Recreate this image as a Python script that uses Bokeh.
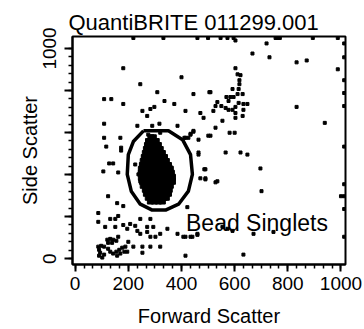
from bokeh.plotting import figure
from bokeh.models import Range1d, FixedTicker, Label
from bokeh.embed import file_html
from bokeh.resources import INLINE

# ---- data (Forward Scatter, Side Scatter) ----
scatter_fsc = [181, 245, 400, 309, 445, 505, 109, 136, 181, 336, 373, 253, 283, 298, 271, 415, 471, 483,
               109, 234, 290, 317, 385, 445, 434, 109, 170, 117, 173, 411, 426, 501, 464,
               547, 573, 596, 754, 762, 770, 894, 988, 219, 332, 460, 500,
               603, 720, 667, 731, 833, 871, 988,
               1012, 1012, 1012, 1012, 1012, 1012,
               603, 611, 622, 618, 618, 592, 615, 509, 611, 630, 569, 584, 596, 577, 535,
               550, 566, 577, 592, 603, 615, 528, 520, 633, 648, 633, 603, 603, 630, 833,
               554, 528, 509, 581, 600, 939,
               173, 128, 143, 106, 162, 124, 158, 181, 87, 87, 113, 132, 151, 162, 151, 181, 196,
               207, 226, 245, 283, 234, 245, 271, 271, 294, 283, 302, 320, 347, 385, 407, 434, 460,
               162, 200, 219, 253, 283, 320, 189, 196, 415, 415, 434, 445, 464, 490, 490,
               464, 566, 622, 648, 697, 486, 471, 490, 528, 535, 701, 422, 554, 573, 592, 671, 746,
               441, 460, 415, 633, 1012, 1012, 1000, 1012, 1012, 253,
               121, 132, 143, 155, 124, 139, 87, 98, 109, 90, 94, 90, 102, 109,
               124, 132, 143, 155, 166, 177, 170, 158, 185,
               226, 238, 245, 366, 358, 257, 294, 283, 340, 275, 320]
scatter_ssc = [906, 830, 863, 792, 783, 792, 759, 759, 736, 750, 736, 703, 712, 722, 679, 703, 693, 670,
               642, 632, 632, 642, 632, 608, 594, 575, 575, 533, 528, 575, 575, 585, 566,
               1050, 1050, 1050, 1050, 1050, 1050, 1050, 1050, 1050, 1050, 1050, 1050,
               1038, 1024, 976, 958, 934, 943, 901,
               1024, 958, 849, 788, 726, 533,
               906, 877, 873, 849, 830, 807, 807, 792, 783, 783, 769, 769, 769, 750, 745,
               726, 717, 708, 708, 722, 741, 726, 703, 736, 736, 708, 693, 670, 679, 722,
               656, 623, 585, 599, 599, 646,
               514, 453, 453, 415, 410, 297, 264, 250, 217, 175, 151, 189, 189, 203, 151, 160, 142,
               165, 156, 189, 189, 132, 118, 151, 127, 151, 104, 104, 118, 142, 118, 104, 104, 118,
               104, 80, 57, 57, 57, 57, 57, 33, 14, 575, 590, 604, 505, 425, 377,
               495, 505, 505, 495, 429, 425, 382, 382, 363, 368, 321, 245, 151, 142, 132, 118, 127,
               104, 113, 104, 19, 354, 297, 297, 236, 104, 28,
               90, 94, 90, 85, 75, 75, 57, 61, 57, 42, 28, 14, 5, 19,
               47, 33, 24, 33, 42, 52, 24, 14, 33,
               448, 401, 368, 377, 439, 486, 566, 533, 472, 590, 599]

# dense bead cluster, row by row
core_fsc = [285, 294,
            276, 291, 305,
            272, 287, 301, 313,
            268, 283, 298, 312, 320,
            264, 279, 294, 309, 324, 328,
            260, 275, 290, 305, 320, 336,
            256, 271, 286, 301, 316, 331, 343,
            253, 268, 283, 298, 313, 328, 343, 351,
            249, 264, 279, 294, 309, 324, 339, 354, 358,
            249, 264, 279, 294, 309, 324, 339, 354, 362,
            249, 264, 279, 294, 309, 324, 339, 354, 366,
            253, 268, 283, 298, 313, 328, 343, 358, 366,
            256, 271, 286, 301, 316, 331, 346, 358,
            264, 279, 294, 309, 324, 339, 354,
            268, 283, 298, 313, 328, 343, 351,
            275, 290, 305, 320, 335, 343,
            283, 298, 313, 328]
core_ssc = [575, 575,
            557, 557, 557,
            538, 538, 538, 538,
            519, 519, 519, 519, 519,
            500, 500, 500, 500, 500, 500,
            481, 481, 481, 481, 481, 481,
            462, 462, 462, 462, 462, 462, 462,
            443, 443, 443, 443, 443, 443, 443, 443,
            425, 425, 425, 425, 425, 425, 425, 425, 425,
            406, 406, 406, 406, 406, 406, 406, 406, 406,
            387, 387, 387, 387, 387, 387, 387, 387, 387,
            368, 368, 368, 368, 368, 368, 368, 368, 368,
            349, 349, 349, 349, 349, 349, 349, 349,
            330, 330, 330, 330, 330, 330, 330,
            311, 311, 311, 311, 311, 311, 311,
            292, 292, 292, 292, 292, 292,
            274, 274, 274, 274]

# singlet gate outline
gate_fsc = [257, 351, 404, 434, 441, 426, 389, 340, 290, 245, 211, 196, 200, 219, 257]
gate_ssc = [608, 608, 566, 495, 401, 321, 259, 231, 231, 259, 321, 401, 495, 557, 608]

x_major = [0, 200, 400, 600, 800, 1000]
y_major = [0, 200, 400, 600, 800, 1000]
y_labels = {0: "0", 200: "", 400: "", 600: "", 800: "", 1000: "1000"}
gate_label = "Bead Singlets"
gate_label_pos = (417, 170)
title_text = "QuantiBRITE 011299.001"

FONT = "Liberation Sans"

p = figure(width=364, height=329, x_range=Range1d(-10, 1017), y_range=Range1d(-28, 1057),
           output_backend="svg", toolbar_location=None,
           min_border_left=72, min_border_right=19, min_border_top=36, min_border_bottom=63)

p.title.text = title_text
p.title.text_font = FONT
p.title.text_font_size = "22px"
p.title.text_font_style = "normal"
p.title.text_color = "black"
p.title.align = "left"
p.title.offset = -4
p.title.standoff = 4

p.xgrid.visible = False
p.ygrid.visible = False
p.outline_line_color = "black"
p.outline_line_width = 2

x_minor = [i * 200 / 6 for i in range(31)]
y_minor = [i * 40 for i in range(26)]
p.xaxis.ticker = FixedTicker(ticks=x_major, minor_ticks=x_minor)
p.yaxis.ticker = FixedTicker(ticks=y_major, minor_ticks=y_minor)
p.yaxis.major_label_overrides = y_labels
p.yaxis.major_label_orientation = "vertical"

for ax in (p.xaxis[0], p.yaxis[0]):
    ax.axis_line_width = 2
    ax.axis_line_color = "black"
    ax.major_tick_line_width = 2
    ax.minor_tick_line_width = 1.5
    ax.major_tick_out = 8
    ax.major_tick_in = 0
    ax.minor_tick_out = 4
    ax.minor_tick_in = 0
    ax.major_label_text_font = FONT
    ax.major_label_text_font_size = "19px"
    ax.major_label_text_color = "black"
    ax.axis_label_text_font = FONT
    ax.axis_label_text_font_size = "20px"
    ax.axis_label_text_font_style = "normal"
    ax.axis_label_text_color = "black"

p.xaxis.axis_label = "Forward Scatter"
p.yaxis.axis_label = "Side Scatter"
p.xaxis.major_tick_out = 7
p.xaxis.major_label_standoff = 5
p.yaxis.major_label_standoff = 8
p.xaxis.axis_label_standoff = 12
p.yaxis.axis_label_standoff = 0

p.scatter(scatter_fsc, scatter_ssc, marker="square", size=3, color="black")
p.scatter(core_fsc, core_ssc, marker="square", size=6, color="black")
p.line(gate_fsc, gate_ssc, line_width=3.5, color="black", line_join="round")

p.add_layout(Label(x=gate_label_pos[0], y=gate_label_pos[1], text=gate_label,
                   text_font=FONT, text_font_size="23px", text_color="black",
                   text_baseline="alphabetic"))

open("out.html", "w").write(file_html(p, INLINE))
